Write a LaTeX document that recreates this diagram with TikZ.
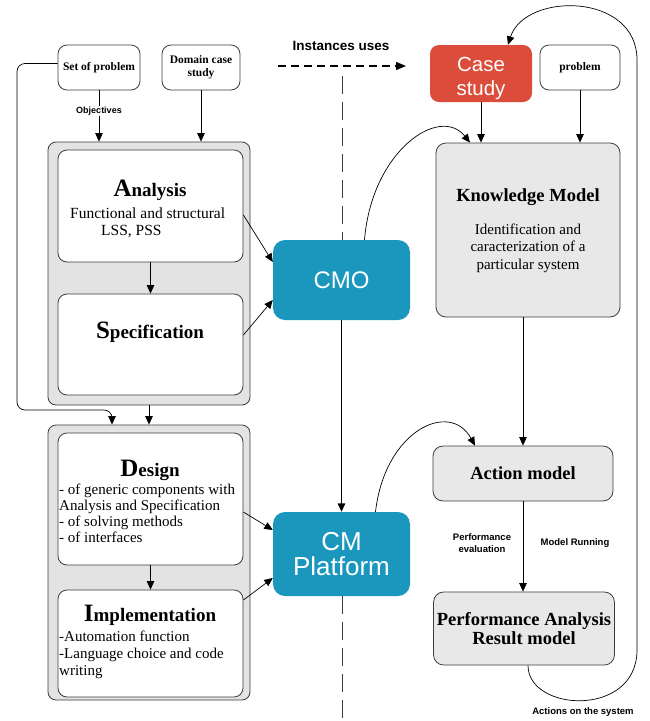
\documentclass[tikz,border=0pt]{standalone}
\usepackage{fontspec}
\setmainfont{Liberation Serif}
\setsansfont{Liberation Sans}
\usetikzlibrary{arrows.meta,positioning,calc}
\definecolor{cmblue}{RGB}{27,151,190}
\definecolor{casered}{RGB}{220,76,58}
\definecolor{boxgray}{RGB}{232,232,232}
\definecolor{edgegray}{RGB}{60,60,60}
\newcommand\headword[2]{\textbf{\fontsize{25}{25}\selectfont #1\fontsize{19}{19}\selectfont #2}}

\begin{document}
\begin{tikzpicture}[x=1pt, y=-1pt,
    whitebox/.style={rectangle, draw=edgegray, fill=white, rounded corners=9pt,
                     line width=0.8pt, align=center},
    graybox/.style={rectangle, draw=edgegray, fill=boxgray, rounded corners=10pt,
                    line width=0.8pt, align=center},
    group/.style={rectangle, draw=edgegray, fill=black!11, rounded corners=8pt,
                  line width=0.8pt},
    bluebox/.style={rectangle, fill=cmblue, rounded corners=12pt, text=white,
                    align=center, font=\sffamily\fontsize{24}{25}\selectfont},
    small/.style={font=\bfseries\fontsize{11.5}{13}\selectfont},
    title/.style={font=\bfseries\fontsize{18.5}{18.5}\selectfont},
    body/.style={font=\fontsize{15.5}{17}\selectfont, align=left, inner sep=0pt},
    lbl/.style={font=\sffamily\bfseries\fontsize{9.5}{12.5}\selectfont, align=center},
    vline/.style={edgegray, line width=0.8pt, dash pattern=on 18pt off 8pt},
    arr/.style={-{Triangle[length=8.5pt,width=7.5pt]}, line width=0.7pt}]

\useasboundingbox (0,0) rectangle (649,721);

\coordinate (inststart) at (278,66);
\coordinate (instend) at (406,66);
\draw[-{Triangle[length=10pt,width=8pt]}, line width=1.4pt, dash pattern=on 8pt off 5pt]
  (inststart) -- (instend);
\node[lbl, font=\sffamily\bfseries\fontsize{13.5}{14}\selectfont] (inst) at (341,46) {Instances uses};

% left column
\node[whitebox, small, minimum width=82pt, minimum height=45pt] (setprob) at (99,67.5) {Set of problem};
\node[whitebox, small, minimum width=78pt, minimum height=45pt] (domain) at (201,67.5) {Domain case\\study};

\node[group, minimum width=202pt, minimum height=263pt] (grp1) at (149,273.5) {};
\node[whitebox, minimum width=185pt, minimum height=112pt] (analysis) at (150.5,206) {};
\node[whitebox, minimum width=185pt, minimum height=101pt] (spec) at (150.5,344.5) {};
\node (antitle) at (150,190) {\headword{A}{nalysis}};
\node[body, anchor=north west] (antext) at (70,208) {Functional and structural\\\hspace*{31pt}LSS, PSS};
\node (sptitle) at (150,332) {\headword{S}{pecification}};

\node[group, minimum width=202pt, minimum height=275pt] (grp2) at (149,562.5) {};
\node[whitebox, minimum width=185pt, minimum height=132pt] (design) at (150.5,499) {};
\node[whitebox, minimum width=185pt, minimum height=107pt] (impl) at (150.5,643.5) {};
\node (detitle) at (150,470) {\headword{D}{esign}};
\node[body, font=\fontsize{15}{16}\selectfont, anchor=north west] (detext) at (59,484)
  {- of generic components with\\Analysis and Specification\\- of solving methods\\- of interfaces};
\node (imtitle) at (150,615) {\headword{I}{mplementation}};
\node[body, font=\fontsize{15}{17}\selectfont, anchor=north west] (imtext) at (59,631)
  {-Automation function\\-Language choice and code\\writing};

% middle
\node[bluebox, minimum width=137pt, minimum height=80pt] (cmo) at (341.5,280) {CMO};
\node[bluebox, font=\sffamily\fontsize{26}{25}\selectfont, minimum width=137pt, minimum height=84pt] (cmp) at (341.5,554) {CM\\Platform};

\coordinate (vtop) at (342,76);
\coordinate (vbot) at (342,721);
\draw[vline] (vtop) -- (vtop |- cmo.north);
\draw[vline] (vbot |- cmp.south) -- (vbot);

% right column
\node[rectangle, fill=casered, rounded corners=9pt,
      minimum width=102pt, minimum height=57pt] (case) at (481,73.5) {};
\node[text=white, align=center, font=\sffamily\fontsize{20.5}{24}\selectfont] (casetext) at (481,78) {Case\\study};
\node[whitebox, small, minimum width=80pt, minimum height=45pt] (prob) at (580,67.5) {problem};

\node[graybox, minimum width=184pt, minimum height=174pt] (km) at (528,230) {};
\node[title] (kmtitle) at (528,197) {Knowledge Model};
\node[body, align=center, font=\fontsize{15}{17.5}\selectfont] (kmtext) at (528,248)
  {Identification and\\caracterization of a\\particular system};
\node[graybox, title, minimum width=180pt, minimum height=55pt] (am) at (523,473.5) {Action model};
\node[graybox, title, minimum width=180pt, minimum height=73pt] (pa) at (524,628.5)
  {Performance Analysis\\Result model};

\node[lbl] (perf) at (482,543) {Performance\\evaluation};
\node[lbl] (run) at (575,543) {Model Running};
\node[lbl] (act) at (583,712) {Actions on the system};

% connectors
\draw[arr] (setprob) -- node[lbl, font=\sffamily\bfseries\fontsize{9}{10}\selectfont,
  fill=white, inner sep=1pt, pos=0.4] (obj) {Objectives} (setprob |- grp1.north);
\draw[arr] (domain) -- (domain |- grp1.north);
\draw[arr] (analysis) -- (spec);
\draw[arr] (grp1) -- (grp2);
\draw[arr] (design) -- (impl);
\coordinate (bend) at (17,410);
\draw[arr, rounded corners=8pt] ([yshift=4pt]setprob.west) -| (bend) -| ([xshift=-37pt]grp2.north);

\draw[arr] ([yshift=-9pt]analysis.east) -- ([yshift=18pt]cmo.west);
\draw[arr] ([yshift=9.5pt]spec.east) -- ([yshift=-20pt]cmo.west);
\draw[arr] ([yshift=-13pt]design.east) -- ([yshift=24pt]cmp.west);
\draw[arr] ([yshift=43.5pt]impl.east) -- ([yshift=-24pt]cmp.west);
\draw[arr, line width=1.4pt] (cmo) -- (cmp);

\draw[arr] (case) -- (case |- km.north);
\draw[arr] (prob) -- (prob |- km.north);
\draw[arr] (am.north |- km.south) -- (am);
\draw[arr] (am) -- (am.south |- pa.north);

\draw[arr] ([xshift=23pt]cmo.north) .. controls (372,150) and (440,105) .. ([xshift=-58pt]km.north);
\draw[arr] ([xshift=34pt]cmp.north) .. controls (385,430) and (450,400) .. ([xshift=-48pt]am.north);
\draw[arr] ([xshift=4pt]pa.south) .. controls (528,712) and (637,718) .. (637,650)
  -- (637,60) .. controls (637,-8) and (525,-8) .. ([xshift=27pt]case.north);
\end{tikzpicture}
\end{document}
